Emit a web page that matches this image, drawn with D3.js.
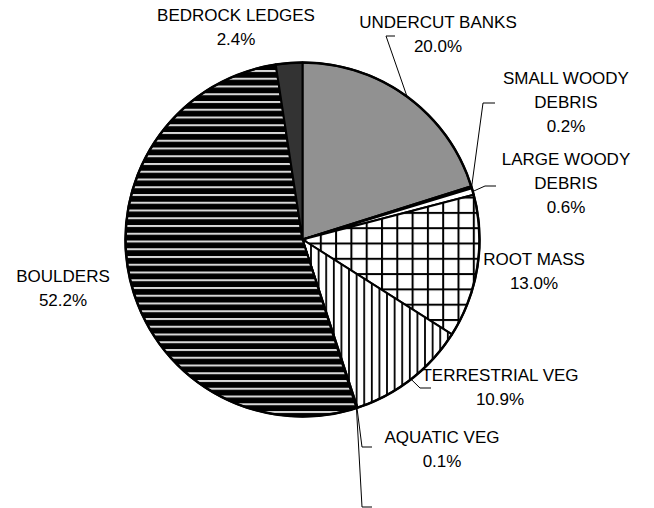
<!DOCTYPE html>
<html>
<head>
<meta charset="utf-8">
<script src="https://cdn.jsdelivr.net/npm/d3@7/dist/d3.min.js"></script>
<style>
  html, body { margin: 0; padding: 0; background: #fff; }
  svg { display: block; }
  text { font-family: "Liberation Sans", Arial, sans-serif; fill: #000; }
</style>
</head>
<body>
<svg id="chart" width="654" height="508"></svg>
<script>
// Stream habitat cover types, share of total (%), clockwise from 12 o'clock
const categories = ["UNDERCUT BANKS", "SMALL WOODY DEBRIS", "LARGE WOODY DEBRIS", "ROOT MASS",
                    "TERRESTRIAL VEG", "AQUATIC VEG", "", "BOULDERS", "BEDROCK LEDGES"];
const values = [20.0, 0.2, 0.6, 13.0, 10.9, 0.1, 0, 52.2, 2.4];
const labelLines = [["UNDERCUT BANKS"], ["SMALL WOODY", "DEBRIS"], ["LARGE WOODY", "DEBRIS"], ["ROOT MASS"],
                    ["TERRESTRIAL VEG"], ["AQUATIC VEG"], [], ["BOULDERS"], ["BEDROCK LEDGES"]];

// Label placement: centre x, first baseline, optional leader (elbow point + end x)
const labelLayout = [
  { x: 438, y: 28, leader: { ex: 386, ey: 36, tx: 395 } },
  { x: 566, y: 84, leader: { ex: 483, ey: 103, tx: 495 } },
  { x: 566, y: 165, leader: { ex: 485, ey: 186, tx: 496 } },
  { x: 534, y: 265, leader: null },
  { x: 500, y: 381, leader: { ex: 420, ey: 388, tx: 431 } },
  { x: 442, y: 443, leader: { ex: 362, ey: 447, tx: 372 } },
  { x: 440, y: 512, leader: { ex: 362, ey: 507, tx: 372 } },
  { x: 63, y: 282, leader: null },
  { x: 236, y: 21, leader: null }
];

const fontSize = 17, lineGap = 24;
const cx = 302.5, cy = 239.5, R = 177;

const svg = d3.select("#chart");
const defs = svg.append("defs");

// Fill patterns
const pDots = defs.append("pattern").attr("id", "p-dots").attr("patternUnits", "userSpaceOnUse")
  .attr("width", 2).attr("height", 2);
pDots.append("rect").attr("width", 2).attr("height", 2).attr("fill", "#5a5a5a");
pDots.append("rect").attr("width", 1).attr("height", 1).attr("fill", "#c8c8c8");
pDots.append("rect").attr("x", 1).attr("y", 1).attr("width", 1).attr("height", 1).attr("fill", "#c8c8c8");

const pGrid = defs.append("pattern").attr("id", "p-grid").attr("patternUnits", "userSpaceOnUse")
  .attr("width", 15.3).attr("height", 15.3).attr("x", 2).attr("y", 3);
pGrid.append("rect").attr("width", 15.3).attr("height", 15.3).attr("fill", "#fff");
pGrid.append("rect").attr("width", 2).attr("height", 15.3).attr("fill", "#000");
pGrid.append("rect").attr("width", 15.3).attr("height", 2).attr("fill", "#000");

const pVert = defs.append("pattern").attr("id", "p-vert").attr("patternUnits", "userSpaceOnUse")
  .attr("width", 7.6).attr("height", 10);
pVert.append("rect").attr("width", 7.6).attr("height", 10).attr("fill", "#fff");
pVert.append("rect").attr("width", 1.8).attr("height", 10).attr("fill", "#000");

const pHoriz = defs.append("pattern").attr("id", "p-horiz").attr("patternUnits", "userSpaceOnUse")
  .attr("width", 10).attr("height", 7.75).attr("y", 1);
pHoriz.append("rect").attr("width", 10).attr("height", 7.75).attr("fill", "#000");
pHoriz.append("rect").attr("y", 0).attr("width", 10).attr("height", 2).attr("fill", "#d8d8d8");

const fills = ["url(#p-dots)", "#000", "#fff", "url(#p-grid)", "url(#p-vert)", "#fff", "#fff",
               "url(#p-horiz)", "#333"];

const data = categories.map((c, i) => ({ name: c, value: values[i], lines: labelLines[i], fill: fills[i], layout: labelLayout[i] }));

const pie = d3.pie().sort(null).value(d => d.value);
const arcs = pie(data);
const arc = d3.arc().innerRadius(0).outerRadius(R);

const g = svg.append("g").attr("transform", `translate(${cx},${cy})`);
g.selectAll("path.slice")
  .data(arcs)
  .join("path")
  .attr("class", "slice")
  .attr("d", arc)
  .attr("fill", d => d.data.fill)
  .attr("stroke", "#000")
  .attr("stroke-width", 2)
  .attr("stroke-linejoin", "round");

// Outer rim drawn a little heavier
g.append("circle").attr("r", R).attr("fill", "none").attr("stroke", "#000").attr("stroke-width", 2.5);

// Leader lines from the rim of each slice to its label
const rimPoint = d => {
  const a = (d.startAngle + d.endAngle) / 2;
  return [cx + R * Math.sin(a), cy - R * Math.cos(a)];
};
arcs.filter(d => d.data.layout.leader).forEach(d => {
  const L = d.data.layout.leader;
  const p = rimPoint(d);
  svg.append("polyline")
    .attr("points", [p, [L.ex, L.ey], [L.tx, L.ey]].map(q => q.join(",")).join(" "))
    .attr("fill", "none")
    .attr("stroke", "#000")
    .attr("stroke-width", 1);
});

// Labels: category name lines then percentage
arcs.forEach(d => {
  const lay = d.data.layout;
  const lines = d.data.lines.length ? d.data.lines.concat([d.data.value.toFixed(1) + "%"]) : [];
  const t = svg.append("text")
    .attr("text-anchor", "middle")
    .attr("font-size", fontSize);
  lines.forEach((ln, i) => {
    t.append("tspan").attr("x", lay.x).attr("y", lay.y + i * lineGap).text(ln);
  });
});
</script>
</body>
</html>
